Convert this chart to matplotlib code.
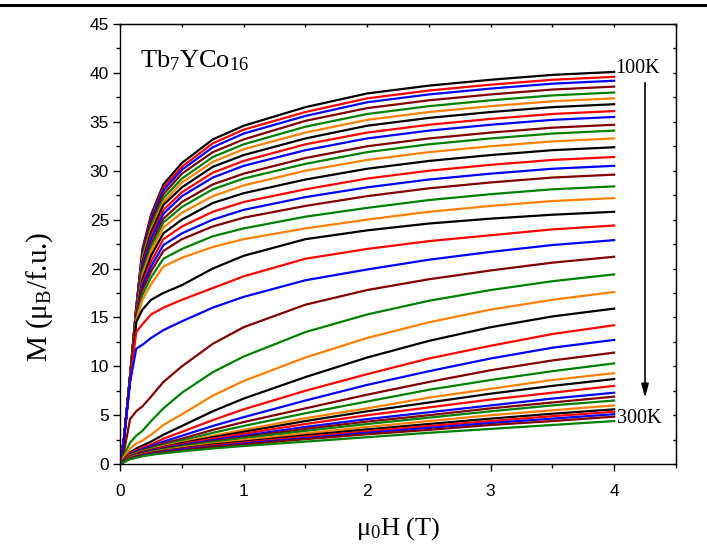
import matplotlib
matplotlib.use("Agg")
import matplotlib.pyplot as plt
from matplotlib.lines import Line2D
from matplotlib.ticker import MultipleLocator

plt.rcParams['mathtext.fontset'] = 'custom'
plt.rcParams['mathtext.rm'] = 'Liberation Serif'
plt.rcParams['mathtext.it'] = 'Liberation Serif:italic'

# isotherms 100 K ... 300 K, every 5 K
temperatures = list(range(100, 301, 5))
field = [0, 0.03, 0.08, 0.13, 0.18, 0.25, 0.35, 0.5, 0.75, 1.0, 1.5, 2.0, 2.5, 3.0, 3.5, 4.0]

magnetization = [
    [0, 2.5, 9.0, 16.0, 22.0, 25.5, 28.6, 30.8, 33.2, 34.6, 36.5, 37.9, 38.7, 39.3, 39.8, 40.1],
    [0, 2.5, 9.0, 16.0, 21.8, 25.2, 28.3, 30.4, 32.8, 34.2, 36.0, 37.4, 38.2, 38.8, 39.3, 39.6],
    [0, 2.5, 9.0, 15.9, 21.6, 25.0, 28.0, 30.1, 32.4, 33.8, 35.6, 37.0, 37.8, 38.4, 38.9, 39.2],
    [0, 2.5, 9.0, 15.9, 21.4, 24.7, 27.6, 29.7, 31.9, 33.2, 35.1, 36.4, 37.2, 37.8, 38.3, 38.6],
    [0, 2.5, 9.0, 15.8, 21.2, 24.3, 27.2, 29.2, 31.4, 32.7, 34.5, 35.8, 36.6, 37.2, 37.7, 38.0],
    [0, 2.5, 8.9, 15.7, 20.9, 24.0, 26.8, 28.8, 30.9, 32.2, 33.9, 35.2, 36.0, 36.6, 37.1, 37.4],
    [0, 2.5, 8.9, 15.7, 20.7, 23.7, 26.5, 28.3, 30.4, 31.6, 33.3, 34.6, 35.4, 36.0, 36.5, 36.8],
    [0, 2.5, 8.9, 15.6, 20.4, 23.3, 26.0, 27.8, 29.8, 31.0, 32.7, 33.9, 34.7, 35.3, 35.8, 36.1],
    [0, 2.5, 8.9, 15.5, 20.2, 23.0, 25.6, 27.4, 29.3, 30.5, 32.1, 33.3, 34.1, 34.7, 35.2, 35.5],
    [0, 2.5, 8.9, 15.5, 19.8, 22.5, 25.1, 26.8, 28.6, 29.7, 31.3, 32.5, 33.3, 33.9, 34.4, 34.7],
    [0, 2.5, 8.9, 15.4, 19.6, 22.2, 24.7, 26.3, 28.1, 29.2, 30.7, 31.9, 32.7, 33.3, 33.8, 34.1],
    [0, 2.5, 8.9, 15.3, 19.3, 21.8, 24.2, 25.7, 27.4, 28.5, 30.0, 31.1, 31.9, 32.5, 33.0, 33.3],
    [0, 2.5, 8.8, 15.2, 18.9, 21.3, 23.6, 25.0, 26.7, 27.7, 29.1, 30.2, 31.0, 31.6, 32.1, 32.4],
    [0, 2.5, 8.8, 15.1, 18.5, 20.7, 23.0, 24.3, 25.8, 26.8, 28.1, 29.2, 30.0, 30.6, 31.1, 31.4],
    [0, 2.5, 8.8, 15.0, 18.2, 20.2, 22.4, 23.6, 25.0, 26.0, 27.3, 28.3, 29.1, 29.7, 30.2, 30.5],
    [0, 2.5, 8.8, 15.0, 17.8, 19.7, 21.8, 23.0, 24.3, 25.2, 26.4, 27.4, 28.2, 28.8, 29.3, 29.6],
    [0, 2.5, 8.8, 14.8, 17.3, 19.1, 21.0, 22.0, 23.3, 24.1, 25.3, 26.2, 27.0, 27.6, 28.1, 28.4],
    [0, 2.5, 8.7, 14.7, 16.8, 18.4, 20.2, 21.1, 22.2, 23.0, 24.1, 25.0, 25.8, 26.4, 26.9, 27.2],
    [0, 2.5, 8.7, 14.5, 15.8, 16.8, 17.5, 18.3, 20.0, 21.3, 23.0, 23.9, 24.6, 25.1, 25.5, 25.8],
    [0, 2.5, 8.6, 13.5, 14.3, 15.3, 16.0, 16.8, 18.0, 19.2, 21.0, 22.0, 22.8, 23.4, 24.0, 24.4],
    [0, 2.4, 8.4, 11.8, 12.2, 12.9, 13.7, 14.6, 16.0, 17.1, 18.8, 19.9, 20.9, 21.7, 22.4, 22.9],
    [0, 1.2, 4.6, 5.4, 5.9, 6.9, 8.4, 10.0, 12.3, 14.0, 16.3, 17.8, 18.9, 19.8, 20.6, 21.2],
    [0, 0.9, 2.2, 2.9, 3.4, 4.4, 5.7, 7.3, 9.4, 11.0, 13.5, 15.3, 16.7, 17.8, 18.7, 19.4],
    [0, 0.7, 1.6, 2.1, 2.4, 3.0, 4.0, 5.1, 7.0, 8.5, 10.9, 12.9, 14.5, 15.8, 16.8, 17.6],
    [0, 0.5, 1.2, 1.6, 1.9, 2.3, 3.0, 3.9, 5.4, 6.7, 8.9, 10.9, 12.6, 14.0, 15.1, 15.9],
    [0, 0.5, 1.1, 1.4, 1.7, 2.0, 2.6, 3.3, 4.5, 5.6, 7.5, 9.2, 10.8, 12.1, 13.3, 14.2],
    [0, 0.45, 1.0, 1.3, 1.55, 1.85, 2.3, 2.9, 3.9, 4.8, 6.5, 8.1, 9.5, 10.8, 11.9, 12.7],
    [0, 0.4, 0.95, 1.2, 1.45, 1.7, 2.1, 2.6, 3.5, 4.3, 5.7, 7.1, 8.4, 9.6, 10.6, 11.4],
    [0, 0.4, 0.9, 1.15, 1.35, 1.6, 1.95, 2.4, 3.2, 3.9, 5.2, 6.4, 7.6, 8.6, 9.5, 10.3],
    [0, 0.4, 0.85, 1.1, 1.3, 1.5, 1.85, 2.25, 2.9, 3.5, 4.7, 5.7, 6.8, 7.7, 8.6, 9.3],
    [0, 0.35, 0.8, 1.05, 1.25, 1.45, 1.75, 2.15, 2.75, 3.3, 4.4, 5.4, 6.3, 7.2, 8.0, 8.7],
    [0, 0.35, 0.8, 1.0, 1.2, 1.4, 1.7, 2.05, 2.6, 3.1, 4.1, 5.0, 5.8, 6.6, 7.3, 8.0],
    [0, 0.35, 0.75, 0.95, 1.15, 1.35, 1.6, 1.95, 2.45, 2.9, 3.8, 4.6, 5.3, 6.0, 6.7, 7.3],
    [0, 0.3, 0.7, 0.9, 1.1, 1.3, 1.55, 1.85, 2.35, 2.75, 3.6, 4.35, 5.0, 5.7, 6.3, 6.9],
    [0, 0.3, 0.7, 0.9, 1.05, 1.25, 1.5, 1.8, 2.25, 2.65, 3.4, 4.1, 4.75, 5.4, 6.0, 6.5],
    [0, 0.3, 0.65, 0.85, 1.0, 1.2, 1.4, 1.7, 2.1, 2.45, 3.15, 3.8, 4.4, 5.0, 5.5, 6.0],
    [0, 0.3, 0.6, 0.8, 0.95, 1.15, 1.35, 1.6, 2.0, 2.3, 2.95, 3.55, 4.1, 4.65, 5.15, 5.6],
    [0, 0.25, 0.6, 0.8, 0.95, 1.1, 1.3, 1.55, 1.9, 2.2, 2.8, 3.35, 3.9, 4.4, 4.9, 5.35],
    [0, 0.25, 0.55, 0.75, 0.9, 1.05, 1.25, 1.5, 1.8, 2.1, 2.65, 3.2, 3.7, 4.2, 4.65, 5.1],
    [0, 0.25, 0.55, 0.7, 0.85, 1.0, 1.2, 1.4, 1.75, 2.0, 2.55, 3.05, 3.5, 4.0, 4.4, 4.85],
    [0, 0.2, 0.5, 0.65, 0.8, 0.95, 1.1, 1.3, 1.6, 1.85, 2.3, 2.75, 3.2, 3.6, 4.0, 4.4],
]

colors = ['#000000', '#ff0000', '#0000ff', '#800000', '#008000', '#ff8000']

fig = plt.figure(figsize=(7.07, 5.46), dpi=100)
ax = fig.add_axes([0.170, 0.150, 0.786, 0.806])

for i, (t, m) in enumerate(zip(temperatures, magnetization)):
    ax.plot(field, m, color=colors[i % len(colors)], lw=1.6, label='%d K' % t)

ax.set_xlim(0, 4.5)
ax.set_ylim(0, 45)
ax.xaxis.set_major_locator(MultipleLocator(1))
ax.xaxis.set_minor_locator(MultipleLocator(0.5))
ax.yaxis.set_major_locator(MultipleLocator(5))
ax.yaxis.set_minor_locator(MultipleLocator(2.5))

for sp in ax.spines.values():
    sp.set_linewidth(1.0)

ax.tick_params(which='both', direction='out', width=1.0, labelsize=12.5,
               top=False, right=False)
ax.tick_params(which='major', length=5)
ax.tick_params(which='minor', length=3)
ax.tick_params(axis='x', pad=9)
ax.tick_params(axis='y', pad=3)
for lbl in ax.get_xticklabels() + ax.get_yticklabels():
    lbl.set_family('Liberation Sans')

# short inward ticks on the top and right frame
top = ax.secondary_xaxis('top')
top.xaxis.set_major_locator(MultipleLocator(0.5))
top.tick_params(direction='in', length=2.5, width=1.0, labeltop=False)
right = ax.secondary_yaxis('right')
right.yaxis.set_major_locator(MultipleLocator(2.5))
right.tick_params(direction='in', length=2.5, width=1.0, labelright=False)

serif = 'Liberation Serif'
ax.set_xlabel(r'μ$_\mathrm{0}$H (T)', fontsize=19, family=serif, labelpad=12)
ax.set_ylabel(r'M (μ$_\mathrm{B}$/f.u.)', fontsize=21, family=serif)
ax.yaxis.set_label_coords(-0.117, 0.38)

ax.text(0.16, 40.6, r'Tb$_\mathrm{7}$YCo$_\mathrm{16}$', fontsize=19, family=serif,
        va='baseline', ha='left')
ax.text(4.01, 40.5, '100K', fontsize=14.5, family=serif, va='center', ha='left')
ax.text(4.02, 4.7, '300K', fontsize=14.5, family=serif, va='center', ha='left')
ax.annotate('', xy=(4.25, 6.8), xytext=(4.25, 39.0),
            arrowprops=dict(arrowstyle='-|>,head_length=0.8,head_width=0.22',
                            color='black', lw=1.2, shrinkA=0, shrinkB=0))

# rule across the top of the page
fig.add_artist(Line2D([0, 1], [1 - 5 / 546, 1 - 5 / 546], transform=fig.transFigure,
                      color='black', lw=2.2))

fig.savefig('out.png', dpi=100)
